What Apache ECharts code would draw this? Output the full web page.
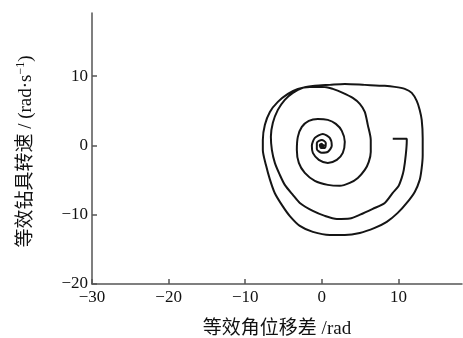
<!DOCTYPE html>
<html>
<head>
<meta charset="utf-8">
<script src="https://cdn.jsdelivr.net/npm/echarts@6/dist/echarts.min.js"></script>
<style>
  html, body { margin: 0; padding: 0; background: #fff; }
  #chart { width: 463px; height: 338px; }
</style>
</head>
<body>
<div id="chart"></div>
<script>
// Phase trajectory: angular displacement difference (rad) vs drill speed (rad/s)
// Start of trajectory: the short hook, then the first loop
const hookLoop = [
  [9.26, 0.94], [11.09, 0.94], [11.09, 0.65], [10.96, -1.37], [10.70, -3.54],
  [10.43, -4.69], [10.0, -5.9], [9.26, -6.85], [8.22, -8.30], [6.65, -9.16],
  [5.0, -10.0], [3.65, -10.55], [1.96, -10.61], [0.39, -10.17], [-1.17, -9.45],
  [-2.87, -8.30], [-3.78, -7.14], [-4.83, -5.70], [-5.48, -4.26], [-6.13, -2.53],
  [-6.52, -0.65], [-6.65, 1.23], [-6.39, 3.25], [-5.74, 5.12], [-4.83, 6.57],
  [-3.78, 7.58], [-2.48, 8.30], [-0.91, 8.59], [1.04, 8.73]
];
// Largest loop (velocity saturates along the top)
const outerLoop = [
  [3.00, 8.87], [5.61, 8.73], [8.22, 8.59], [9.52, 8.44], [10.83, 8.15],
  [11.74, 7.58], [12.39, 6.42], [12.78, 5.12], [13.04, 3.68], [13.17, 1.08],
  [13.17, -1.37], [13.04, -3.25], [12.78, -4.98], [12.13, -6.71], [11.09, -8.30],
  [9.91, -9.74], [8.48, -11.04], [6.91, -11.90], [4.96, -12.63], [3.00, -12.92],
  [1.04, -12.92], [-1.17, -12.48], [-2.87, -11.62], [-4.17, -10.2], [-5.09, -8.8],
  [-6.13, -6.90], [-6.78, -4.90], [-7.30, -2.81], [-7.70, -0.65], [-7.70, 0.79],
  [-7.43, 2.96], [-6.78, 4.83], [-5.74, 6.28], [-4.43, 7.43], [-3.13, 8.15],
  [-1.57, 8.44], [0.39, 8.44]
];
// Decaying spiral toward the origin
const innerSpiral = [
  [1.43, 8.15], [2.74, 7.58], [4.04, 6.85], [4.96, 5.99], [5.61, 4.83],
  [6.00, 2.96], [6.39, 0.79], [6.39, -0.94], [6.13, -2.38], [5.61, -3.54],
  [4.70, -4.69], [3.65, -5.41], [2.35, -5.84], [0.78, -5.70], [-0.91, -5.12],
  [-2.22, -3.97], [-3.00, -2.53], [-3.26, -0.65], [-3.13, 1.23], [-2.61, 2.67],
  [-1.70, 3.54], [-0.52, 3.82], [0.78, 3.68], [1.83, 3.10], [2.61, 2.09],
  [3.00, 0.51], [2.74, -1.08], [1.96, -2.09], [0.78, -2.53], [-0.39, -2.09],
  [-1.17, -1.08], [-1.30, -0.07], [-0.91, 1.08], [0.13, 1.66], [1.04, 1.08],
  [1.30, -0.07], [0.78, -0.94], [0.00, -1.08], [-0.65, -0.51], [-0.65, 0.36],
  [0.00, 0.79], [0.52, 0.36], [0.39, -0.36], [-0.13, -0.36], [-0.26, 0.07],
  [0.00, 0.22], [0.13, -0.07], [0.30, 0.10], [0.10, -0.25], [-0.20, -0.10],
  [-0.10, 0.15], [0.15, 0.05], [0.0, -0.05]
];
const xTicks = [-30, -20, -10, 0, 10];
const yTicks = [-20, -10, 0, 10];

const trajectory = hookLoop.concat(outerLoop, innerSpiral);

const serif = '"Liberation Serif", "Times New Roman", "Noto Sans CJK SC", serif';
const minus = v => String(v).replace('-', '\u2212');
const axisGrey = '#555';

const chart = echarts.init(document.getElementById('chart'));
chart.setOption({
  animation: false,
  backgroundColor: '#fff',
  grid: { left: 92, right: 1, top: 13, bottom: 54, containLabel: false, outerBoundsMode: 'none' },
  xAxis: {
    type: 'value',
    min: -30, max: 18.3,
    name: '等效角位移差 /rad',
    nameLocation: 'middle',
    nameGap: 36,
    nameTextStyle: { fontFamily: serif, fontSize: 19, color: '#111' },
    splitLine: { show: false },
    axisLine: { onZero: false, lineStyle: { color: axisGrey, width: 1.5 } },
    axisTick: { inside: true, length: 5, customValues: xTicks, lineStyle: { color: axisGrey, width: 1.5 } },
    axisLabel: { customValues: xTicks, formatter: minus, fontFamily: serif, fontSize: 17, color: '#111', margin: 5 }
  },
  yAxis: {
    type: 'value',
    min: -20, max: 19.1,
    name: '{t|等效钻具转速 / (rad·s}{s|−1}{t|)}',
    nameLocation: 'middle',
    nameGap: 55,
    nameRotate: 90,
    nameTextStyle: {
      padding: [0, 6, 0, 0],
      rich: {
        t: { fontFamily: serif, fontSize: 19, color: '#111' },
        s: { fontFamily: serif, fontSize: 12, color: '#111', verticalAlign: 'top', padding: [0, 0, 10, 0] }
      }
    },
    splitLine: { show: false },
    axisLine: { onZero: false, lineStyle: { color: axisGrey, width: 1.5 } },
    axisTick: { inside: true, length: 5, customValues: yTicks, lineStyle: { color: axisGrey, width: 1.5 } },
    axisLabel: { customValues: yTicks, formatter: minus, fontFamily: serif, fontSize: 17, color: '#111', margin: 4 }
  },
  series: [{
    type: 'line',
    data: trajectory,
    showSymbol: false,
    smooth: 0.25,
    clip: false,
    lineStyle: { color: '#151515', width: 2 }
  }]
});
</script>
</body>
</html>
